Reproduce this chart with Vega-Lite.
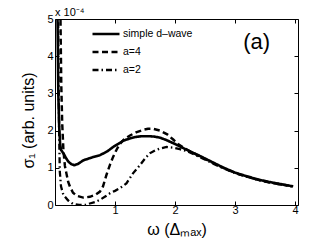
{
  "$schema": "https://vega.github.io/schema/vega-lite/v6.json",
  "width": 243,
  "height": 186,
  "autosize": "none",
  "padding": {"left": 55, "top": 19, "right": 29, "bottom": 41},
  "background": "white",
  "config": {
    "view": {"stroke": "black", "strokeWidth": 1},
    "font": "Liberation Sans",
    "axis": {
      "domain": false,
      "grid": false,
      "tickColor": "black",
      "tickSize": -4,
      "labelFontSize": 11,
      "labelColor": "black",
      "labelFont": "Liberation Sans",
      "titleFont": "Liberation Sans",
      "titleFontSize": 16,
      "titleFontWeight": "normal",
      "titleColor": "black"
    }
  },
  "datasets": {
    "curves": [
      {"s": "simple d–wave", "x": 0.035, "y": 6.0},
      {"s": "simple d–wave", "x": 0.045, "y": 4.6},
      {"s": "simple d–wave", "x": 0.055, "y": 3.0},
      {"s": "simple d–wave", "x": 0.07, "y": 2.1},
      {"s": "simple d–wave", "x": 0.085, "y": 1.65},
      {"s": "simple d–wave", "x": 0.1, "y": 1.48},
      {"s": "simple d–wave", "x": 0.14, "y": 1.39},
      {"s": "simple d–wave", "x": 0.18, "y": 1.27},
      {"s": "simple d–wave", "x": 0.22, "y": 1.17},
      {"s": "simple d–wave", "x": 0.27, "y": 1.1},
      {"s": "simple d–wave", "x": 0.32, "y": 1.07},
      {"s": "simple d–wave", "x": 0.38, "y": 1.1},
      {"s": "simple d–wave", "x": 0.47, "y": 1.2},
      {"s": "simple d–wave", "x": 0.6, "y": 1.27},
      {"s": "simple d–wave", "x": 0.75, "y": 1.34},
      {"s": "simple d–wave", "x": 0.87, "y": 1.44},
      {"s": "simple d–wave", "x": 0.97, "y": 1.56},
      {"s": "simple d–wave", "x": 1.05, "y": 1.64},
      {"s": "simple d–wave", "x": 1.14, "y": 1.73},
      {"s": "simple d–wave", "x": 1.25, "y": 1.79},
      {"s": "simple d–wave", "x": 1.35, "y": 1.83},
      {"s": "simple d–wave", "x": 1.45, "y": 1.85},
      {"s": "simple d–wave", "x": 1.55, "y": 1.85},
      {"s": "simple d–wave", "x": 1.65, "y": 1.84},
      {"s": "simple d–wave", "x": 1.75, "y": 1.81},
      {"s": "simple d–wave", "x": 1.85, "y": 1.75},
      {"s": "simple d–wave", "x": 2.0, "y": 1.64},
      {"s": "simple d–wave", "x": 2.1, "y": 1.56},
      {"s": "simple d–wave", "x": 2.2, "y": 1.48},
      {"s": "simple d–wave", "x": 2.4, "y": 1.33},
      {"s": "simple d–wave", "x": 2.6, "y": 1.17},
      {"s": "simple d–wave", "x": 2.8, "y": 1.01},
      {"s": "simple d–wave", "x": 3.0, "y": 0.87},
      {"s": "simple d–wave", "x": 3.2, "y": 0.77},
      {"s": "simple d–wave", "x": 3.4, "y": 0.68},
      {"s": "simple d–wave", "x": 3.6, "y": 0.61},
      {"s": "simple d–wave", "x": 3.8, "y": 0.55},
      {"s": "simple d–wave", "x": 3.97, "y": 0.5},
      {"s": "a=4", "x": 0.085, "y": 6.0},
      {"s": "a=4", "x": 0.095, "y": 4.5},
      {"s": "a=4", "x": 0.105, "y": 3.2},
      {"s": "a=4", "x": 0.12, "y": 2.2},
      {"s": "a=4", "x": 0.14, "y": 1.48},
      {"s": "a=4", "x": 0.165, "y": 1.05},
      {"s": "a=4", "x": 0.19, "y": 0.85},
      {"s": "a=4", "x": 0.22, "y": 0.62},
      {"s": "a=4", "x": 0.25, "y": 0.49},
      {"s": "a=4", "x": 0.3, "y": 0.33},
      {"s": "a=4", "x": 0.36, "y": 0.25},
      {"s": "a=4", "x": 0.47, "y": 0.2},
      {"s": "a=4", "x": 0.58, "y": 0.22},
      {"s": "a=4", "x": 0.67, "y": 0.27},
      {"s": "a=4", "x": 0.75, "y": 0.36},
      {"s": "a=4", "x": 0.8, "y": 0.5},
      {"s": "a=4", "x": 0.86, "y": 0.82},
      {"s": "a=4", "x": 0.92, "y": 1.1},
      {"s": "a=4", "x": 0.97, "y": 1.3},
      {"s": "a=4", "x": 1.03, "y": 1.5},
      {"s": "a=4", "x": 1.08, "y": 1.64},
      {"s": "a=4", "x": 1.15, "y": 1.76},
      {"s": "a=4", "x": 1.25, "y": 1.87},
      {"s": "a=4", "x": 1.35, "y": 1.95},
      {"s": "a=4", "x": 1.47, "y": 2.02},
      {"s": "a=4", "x": 1.55, "y": 2.05},
      {"s": "a=4", "x": 1.63, "y": 2.05},
      {"s": "a=4", "x": 1.75, "y": 2.0},
      {"s": "a=4", "x": 1.87, "y": 1.9},
      {"s": "a=4", "x": 1.97, "y": 1.76},
      {"s": "a=4", "x": 2.05, "y": 1.64},
      {"s": "a=4", "x": 2.15, "y": 1.53},
      {"s": "a=4", "x": 2.3, "y": 1.4},
      {"s": "a=4", "x": 2.5, "y": 1.24},
      {"s": "a=4", "x": 2.7, "y": 1.08},
      {"s": "a=4", "x": 2.9, "y": 0.93},
      {"s": "a=4", "x": 3.1, "y": 0.81},
      {"s": "a=4", "x": 3.3, "y": 0.71},
      {"s": "a=4", "x": 3.5, "y": 0.63},
      {"s": "a=4", "x": 3.7, "y": 0.57},
      {"s": "a=4", "x": 3.9, "y": 0.52},
      {"s": "a=2", "x": 0.05, "y": 6.0},
      {"s": "a=2", "x": 0.055, "y": 4.5},
      {"s": "a=2", "x": 0.062, "y": 3.0},
      {"s": "a=2", "x": 0.07, "y": 1.8},
      {"s": "a=2", "x": 0.08, "y": 0.9},
      {"s": "a=2", "x": 0.1, "y": 0.5},
      {"s": "a=2", "x": 0.14, "y": 0.27},
      {"s": "a=2", "x": 0.22, "y": 0.12},
      {"s": "a=2", "x": 0.3, "y": 0.03},
      {"s": "a=2", "x": 0.4, "y": 0.0},
      {"s": "a=2", "x": 0.5, "y": 0.0},
      {"s": "a=2", "x": 0.58, "y": 0.04},
      {"s": "a=2", "x": 0.67, "y": 0.08},
      {"s": "a=2", "x": 0.75, "y": 0.14},
      {"s": "a=2", "x": 0.85, "y": 0.24},
      {"s": "a=2", "x": 0.92, "y": 0.32},
      {"s": "a=2", "x": 1.0, "y": 0.38},
      {"s": "a=2", "x": 1.08, "y": 0.45},
      {"s": "a=2", "x": 1.19, "y": 0.58},
      {"s": "a=2", "x": 1.3, "y": 0.85},
      {"s": "a=2", "x": 1.42, "y": 1.08},
      {"s": "a=2", "x": 1.5, "y": 1.25},
      {"s": "a=2", "x": 1.58, "y": 1.39},
      {"s": "a=2", "x": 1.67, "y": 1.47},
      {"s": "a=2", "x": 1.75, "y": 1.52},
      {"s": "a=2", "x": 1.86, "y": 1.56},
      {"s": "a=2", "x": 1.97, "y": 1.54},
      {"s": "a=2", "x": 2.08, "y": 1.5},
      {"s": "a=2", "x": 2.2, "y": 1.45},
      {"s": "a=2", "x": 2.4, "y": 1.3},
      {"s": "a=2", "x": 2.6, "y": 1.14},
      {"s": "a=2", "x": 2.8, "y": 0.99},
      {"s": "a=2", "x": 3.0, "y": 0.86},
      {"s": "a=2", "x": 3.2, "y": 0.76},
      {"s": "a=2", "x": 3.4, "y": 0.67},
      {"s": "a=2", "x": 3.6, "y": 0.6},
      {"s": "a=2", "x": 3.8, "y": 0.54},
      {"s": "a=2", "x": 3.95, "y": 0.5}
    ],
    "labels": [
      {"x": 3.36, "y": 4.38, "t": "(a)"}
    ],
    "expo": [
      {"x": 0, "y": 5, "t": "x 10⁻⁴"}
    ]
  },
  "layer": [
    {
      "data": {"name": "curves"},
      "mark": {"type": "line", "clip": true, "color": "black", "strokeCap": "butt"},
      "encoding": {
        "x": {"field": "x", "type": "quantitative", "scale": {"domain": [0, 4.05], "nice": false, "zero": false},
              "axis": {"orient": "bottom", "values": [1, 2, 3, 4], "title": "ω (Δₘₐₓ)", "labelPadding": 3, "titlePadding": 6}},
        "y": {"field": "y", "type": "quantitative", "scale": {"domain": [0, 5], "nice": false},
              "axis": {"orient": "left", "values": [0, 1, 2, 3, 4, 5], "title": "σ₁ (arb. units)", "labelPadding": 6, "titleX": -19, "titleY": 101}},
        "strokeDash": {"field": "s", "type": "nominal",
          "scale": {"domain": ["simple d–wave", "a=4", "a=2"], "range": [[1, 0], [6, 3.5], [6, 3, 1.5, 3]]},
          "legend": {"orient": "none", "legendX": 45, "legendY": 9, "title": null, "symbolType": "M-3,0H3", "symbolSize": 81,
                     "labelFontSize": 10.5, "labelColor": "black", "labelOffset": 11, "symbolStrokeColor": "black", "symbolFillColor": "transparent", "rowPadding": 6, "padding": 0}},
        "strokeWidth": {"field": "s", "type": "nominal",
          "scale": {"domain": ["simple d–wave", "a=4", "a=2"], "range": [2.6, 2.3, 1.2]},
          "legend": {"orient": "none", "legendX": 45, "legendY": 9, "title": null, "symbolType": "M-3,0H3", "symbolSize": 81,
                     "labelFontSize": 10.5, "labelColor": "black", "labelOffset": 11, "symbolStrokeColor": "black", "symbolFillColor": "transparent", "rowPadding": 6, "padding": 0}},
        "order": {"field": "x", "type": "quantitative"}
      }
    },
    {
      "data": {"name": "curves"},
      "mark": {"type": "point", "opacity": 0},
      "encoding": {
        "x": {"field": "x", "type": "quantitative", "axis": {"orient": "top", "values": [1, 2, 3, 4], "labels": false, "title": null}},
        "y": {"field": "y", "type": "quantitative", "axis": {"orient": "right", "values": [0, 1, 2, 3, 4, 5], "labels": false, "title": null}}
      }
    },
    {
      "data": {"name": "labels"},
      "mark": {"type": "text", "fontSize": 22, "font": "Liberation Sans", "color": "black", "align": "center", "baseline": "middle"},
      "encoding": {
        "x": {"field": "x", "type": "quantitative", "axis": null},
        "y": {"field": "y", "type": "quantitative", "axis": null},
        "text": {"field": "t"}
      }
    },
    {
      "data": {"name": "expo"},
      "mark": {"type": "text", "fontSize": 11, "font": "Liberation Sans", "color": "black", "align": "left", "baseline": "bottom", "dy": -1},
      "encoding": {
        "x": {"field": "x", "type": "quantitative", "axis": null},
        "y": {"field": "y", "type": "quantitative", "axis": null},
        "text": {"field": "t"}
      }
    }
  ],
  "resolve": {"axis": {"x": "independent", "y": "independent"}}
}
